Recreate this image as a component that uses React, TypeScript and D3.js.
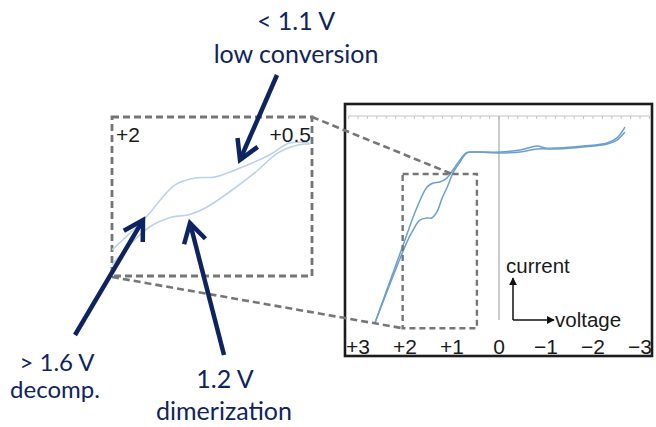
import React from "react";
import * as d3 from "d3";

// ---------- data ----------
const XTICK_VALUES = [3, 2, 1, 0, -1, -2, -3];
const XTICK_LABELS = ["+3", "+2", "+1", "0", "\u22121", "\u22122", "\u22123"];

// cyclic voltammogram, scan A (voltage V, current a.u.)
const scanAVoltage = [2.64, 2.04, 1.75, 1.53, 1.4, 1.26, 1.11, 0.98, 0.83, 0.7, 0.55, -0.02, -0.45, -0.81, -0.98, -1.23, -1.79, -2.3, -2.51, -2.68];
const scanACurrent = [-9.61, -5.23, -3.16, -1.98, -1.76, -1.7, -1.48, -1.03, -0.47, -0.07, -0.02, -0.02, 0.09, 0.32, 0.21, 0.21, 0.32, 0.49, 0.77, 1.38];
// scan B
const scanBVoltage = [2.64, 1.96, 1.85, 1.68, 1.53, 1.43, 1.32, 1.21, 1.11, 0.98, 0.83, 0.68, 0.51, -0.02, -0.45, -0.81, -1.23, -1.79, -2.3, -2.51, -2.68];
const scanBCurrent = [-9.61, -5.07, -4.5, -3.83, -3.72, -3.72, -3.38, -2.6, -2.04, -1.2, -0.58, -0.07, -0.02, -0.07, -0.02, 0.15, 0.15, 0.26, 0.43, 0.65, 1.1];

// zoomed inset (voltage window +2 .. +0.5, normalised current)
const insetAVoltage = [2.0, 1.75, 1.53, 1.38, 1.23, 1.04, 0.82, 0.67, 0.52];
const insetACurrent = [0.164, 0.365, 0.572, 0.616, 0.623, 0.679, 0.761, 0.836, 0.836];
const insetBVoltage = [2.0, 1.73, 1.55, 1.43, 1.3, 1.13, 0.93, 0.755, 0.605, 0.515];
const insetBCurrent = [0.069, 0.302, 0.371, 0.384, 0.428, 0.522, 0.648, 0.774, 0.824, 0.83];
const INSET_LABELS = ["+2", "+0.5"];
const ZOOM_VOLTAGE = [2.05, 0.47];
const ZOOM_CURRENT = [-9.9, -1.25];

// annotations: tip in inset data coords, label lines
const annoLines1 = ["< 1.1 V", "low conversion"];
const annoLines2 = ["> 1.6 V", "decomp."];
const annoLines3 = ["1.2 V", "dimerization"];
const annoTipV = [1.04, 1.7675, 1.415];
const annoTipI = [0.73, 0.352, 0.333];

// ---------- styles ----------
const NAVY = "#0e2462";
const DASH = "#767676";
const CV_BLUE = "#6b9fd3";
const INSET_BLUE = "#bcd2e8";

export default function App() {
  // main panel scales
  const x = d3.scaleLinear().domain([3, -3]).range([358, 640]);
  const y = d3.scaleLinear().domain([-10, 2]).range([330, 116]);
  // inset scales
  const ix = d3.scaleLinear().domain([2, 0.5]).range([112, 312]);
  const iy = d3.scaleLinear().domain([0, 1]).range([276, 117]);

  const line = d3
    .line<[number, number]>()
    .x((d) => x(d[0]))
    .y((d) => y(d[1]))
    .curve(d3.curveCatmullRom.alpha(0.5));
  const iline = d3
    .line<[number, number]>()
    .x((d) => ix(d[0]))
    .y((d) => iy(d[1]))
    .curve(d3.curveCatmullRom.alpha(0.5));

  const zip = (a: number[], b: number[]) => a.map((v, i) => [v, b[i]] as [number, number]);

  const minorTicks = d3.range(-16, 17).map((k) => k / 5);

  const zx0 = x(ZOOM_VOLTAGE[0]);
  const zx1 = x(ZOOM_VOLTAGE[1]);
  const zy0 = y(ZOOM_CURRENT[1]);
  const zy1 = y(ZOOM_CURRENT[0]);

  const arrow = (tx: number, ty: number, sx: number, sy: number, key: string) => {
    const dx = sx - tx;
    const dy = sy - ty;
    const len = Math.hypot(dx, dy);
    const ux = dx / len;
    const uy = dy / len;
    const L = 22;
    const a = Math.PI / 6;
    const r = (ang: number) => [
      tx + L * (ux * Math.cos(ang) - uy * Math.sin(ang)),
      ty + L * (ux * Math.sin(ang) + uy * Math.cos(ang)),
    ];
    const p1 = r(a);
    const p2 = r(-a);
    return (
      <g key={key} stroke={NAVY} strokeWidth={4.5} fill="none">
        <path d={`M${sx},${sy}L${tx},${ty}`} />
        <path d={`M${p1[0]},${p1[1]}L${tx},${ty}L${p2[0]},${p2[1]}`} strokeLinejoin="miter" />
      </g>
    );
  };

  const tips = annoTipV.map((v, i) => [ix(v), iy(annoTipI[i])]);
  const tails = [
    [277, 75],
    [75, 335],
    [224, 355],
  ];

  const annoFont = { fontFamily: "Lato, 'Open Sans', sans-serif", fontSize: 25, fill: NAVY };
  const axFont = { fontFamily: "'Liberation Sans', Arial, sans-serif", fill: "#1a1a1a" };

  return (
    <svg
      width={656}
      height={427}
      style={{ position: "absolute", left: 0, top: 0, background: "#fff" }}
    >
      {/* ---- right panel ---- */}
      <rect x={345} y={104} width={307} height={252} fill="#fff" stroke="#1c1c1c" strokeWidth={2.6} />
      {/* top tick axis */}
      <line x1={x(3.2)} x2={x(-3.2)} y1={116} y2={116} stroke="#c4c4c4" strokeWidth={1} />
      {minorTicks.map((v) => (
        <line key={v} x1={x(v)} x2={x(v)} y1={116} y2={119} stroke="#c4c4c4" strokeWidth={1} />
      ))}
      {/* zero line */}
      <line x1={x(0)} x2={x(0)} y1={116} y2={320} stroke="#b0b0b0" strokeWidth={1.3} />

      {/* CV curves */}
      <path d={line(zip(scanAVoltage, scanACurrent)) || ""} fill="none" stroke={CV_BLUE} strokeWidth={1.5} />
      <path d={line(zip(scanBVoltage, scanBCurrent)) || ""} fill="none" stroke={CV_BLUE} strokeWidth={1.5} />

      {/* zoom rectangle */}
      <rect
        x={zx0}
        y={zy0}
        width={zx1 - zx0}
        height={zy1 - zy0}
        fill="none"
        stroke={DASH}
        strokeWidth={2.4}
        strokeDasharray="6 4"
      />

      {/* tick labels */}
      {XTICK_VALUES.map((v, i) => (
        <text key={v} x={x(v)} y={354} textAnchor="middle" fontSize={21} {...axFont}>
          {XTICK_LABELS[i]}
        </text>
      ))}

      {/* axis hint arrows */}
      <defs>
        <marker id="tri" viewBox="0 0 10 10" refX={9} refY={5} markerWidth={8} markerHeight={8} orient="auto" markerUnits="userSpaceOnUse">
          <path d="M0,0L10,5L0,10Z" fill="#111" />
        </marker>
      </defs>
      <line x1={513} y1={320} x2={513} y2={278} stroke="#111" strokeWidth={1.5} markerEnd="url(#tri)" />
      <line x1={513} y1={320} x2={554} y2={320} stroke="#111" strokeWidth={1.5} markerEnd="url(#tri)" />
      <text x={506} y={273} fontSize={20.5} {...axFont}>current</text>
      <text x={555} y={327} fontSize={20.5} {...axFont}>voltage</text>

      {/* ---- connectors ---- */}
      <line x1={ix(0.5)} y1={iy(1)} x2={x(1.0)} y2={zy0} stroke={DASH} strokeWidth={2.6} strokeDasharray="7 4" />
      <line x1={ix(2)} y1={iy(0) + 1} x2={zx0} y2={zy1} stroke={DASH} strokeWidth={2.6} strokeDasharray="7 4" />

      {/* ---- inset ---- */}
      <rect
        x={ix(2)}
        y={iy(1)}
        width={ix(0.5) - ix(2)}
        height={iy(0) - iy(1)}
        fill="none"
        stroke={DASH}
        strokeWidth={2.8}
        strokeDasharray="7 4"
      />
      <path d={iline(zip(insetAVoltage, insetACurrent)) || ""} fill="none" stroke={INSET_BLUE} strokeWidth={1.6} />
      <path d={iline(zip(insetBVoltage, insetBCurrent)) || ""} fill="none" stroke={INSET_BLUE} strokeWidth={1.6} />
      <text x={ix(2) + 4} y={142} fontSize={21} {...axFont}>{INSET_LABELS[0]}</text>
      <text x={ix(0.5) - 1} y={142} fontSize={21} textAnchor="end" {...axFont}>{INSET_LABELS[1]}</text>

      {/* ---- annotations ---- */}
      {tips.map((t, i) => arrow(t[0], t[1], tails[i][0], tails[i][1], "a" + i))}
      <text x={296} y={30} textAnchor="middle" {...annoFont}>{annoLines1[0]}</text>
      <text x={296} y={63} textAnchor="middle" {...annoFont}>{annoLines1[1]}</text>
      <text x={57} y={371} textAnchor="middle" {...annoFont} fontSize={24}>{annoLines2[0]}</text>
      <text x={55} y={398} textAnchor="middle" {...annoFont} fontSize={24}>{annoLines2[1]}</text>
      <text x={225} y={388} textAnchor="middle" {...annoFont}>{annoLines3[0]}</text>
      <text x={224} y={420} textAnchor="middle" {...annoFont}>{annoLines3[1]}</text>
    </svg>
  );
}
